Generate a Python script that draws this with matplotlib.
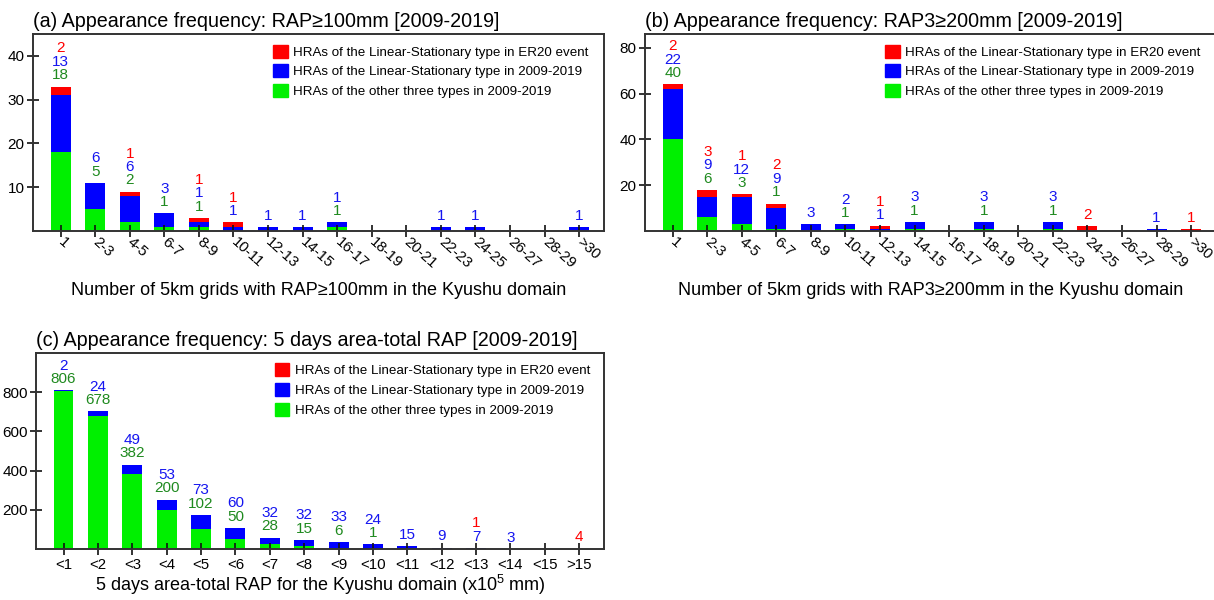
import matplotlib
matplotlib.use("Agg")
import matplotlib.pyplot as plt
import matplotlib.patches as mpatches
import numpy as np

plt.rcParams['font.family'] = ['Liberation Sans', 'DejaVu Sans']
plt.rcParams['mathtext.fontset'] = 'custom'
plt.rcParams['mathtext.rm'] = 'Liberation Sans'

# x categories
grid_bins = ["1", "2-3", "4-5", "6-7", "8-9", "10-11", "12-13", "14-15", "16-17",
             "18-19", "20-21", "22-23", "24-25", "26-27", "28-29", ">30"]
total_bins = ["<1", "<2", "<3", "<4", "<5", "<6", "<7", "<8", "<9", "<10",
              "<11", "<12", "<13", "<14", "<15", ">15"]

# (a) RAP>=100mm
a_other = [18, 5, 2, 1, 1, 0, 0, 0, 1, 0, 0, 0, 0, 0, 0, 0]
a_ls = [13, 6, 6, 3, 1, 1, 1, 1, 1, 0, 0, 1, 1, 0, 0, 1]
a_er20 = [2, 0, 1, 0, 1, 1, 0, 0, 0, 0, 0, 0, 0, 0, 0, 0]

# (b) RAP3>=200mm
b_other = [40, 6, 3, 1, 0, 1, 0, 1, 0, 1, 0, 1, 0, 0, 0, 0]
b_ls = [22, 9, 12, 9, 3, 2, 1, 3, 0, 3, 0, 3, 0, 0, 1, 0]
b_er20 = [2, 3, 1, 2, 0, 0, 1, 0, 0, 0, 0, 0, 2, 0, 0, 1]

# (c) 5 days area-total RAP
c_other = [806, 678, 382, 200, 102, 50, 28, 15, 6, 1, 0, 0, 0, 0, 0, 0]
c_ls = [2, 24, 49, 53, 73, 60, 32, 32, 33, 24, 15, 9, 7, 3, 0, 0]
c_er20 = [0, 0, 0, 0, 0, 0, 0, 0, 0, 0, 0, 0, 1, 0, 0, 4]

legend_labels = ["HRAs of the Linear-Stationary type in ER20 event",
                 "HRAs of the Linear-Stationary type in 2009-2019",
                 "HRAs of the other three types in 2009-2019"]

RED, BLUE, GREEN = '#ff0000', '#0000ff', '#00f000'
TXT_R, TXT_B, TXT_G = '#ff0000', '#1515f0', '#1f8a1f'
FRAME = '#333333'


def draw_panel(ax, cats, green, blue, red, ymax, yticks, title, xlabel, rotate, xlabelpad):
    x = np.arange(len(cats))
    g = np.array(green)
    b = np.array(blue)
    r = np.array(red)
    w = 0.58
    ax.bar(x, g, w, color=GREEN)
    ax.bar(x, b, w, bottom=g, color=BLUE)
    ax.bar(x, r, w, bottom=g + b, color=RED)

    # stacked numbers above each bar: green, blue, red (non-zero only)
    for i in x:
        top = g[i] + b[i] + r[i]
        k = 0
        for val, col in ((g[i], TXT_G), (b[i], TXT_B), (r[i], TXT_R)):
            if val > 0:
                ax.annotate(str(val), (i, top), xytext=(0, 8.0 + k * 9.7),
                            textcoords='offset points', ha='center', va='center',
                            color=col, fontsize=11)
                k += 1

    ax.set_xlim(-0.8, 15.72)
    ax.set_ylim(0, ymax)
    ax.set_yticks(yticks)
    ax.set_xticks(x)
    if rotate:
        ax.set_xticklabels(cats, rotation=-42, ha='left', va='center',
                           rotation_mode='anchor')
    else:
        ax.set_xticklabels(cats)
    ax.tick_params(direction='inout', length=9, width=1.2, labelsize=10.8,
                   pad=2, color='#111111')
    ax.tick_params(axis='y', pad=1.5, labelsize=11)
    for s in ax.spines.values():
        s.set_linewidth(1.4)
        s.set_color(FRAME)

    ax.set_title(title, loc='left', fontsize=14.2, pad=5)
    ax.set_xlabel(xlabel, fontsize=13, labelpad=xlabelpad)

    handles = [mpatches.Patch(color=RED, label=legend_labels[0]),
               mpatches.Patch(color=BLUE, label=legend_labels[1]),
               mpatches.Patch(color=GREEN, label=legend_labels[2])]
    ax.legend(handles=handles, loc='upper left', bbox_to_anchor=(0.42, 0.946),
              frameon=False, fontsize=9.6, handlelength=1.12, handleheight=1.12,
              handletextpad=0.38, labelspacing=0.42, borderpad=0, borderaxespad=0)


W, H = 1214, 600
fig = plt.figure(figsize=(W / 100, H / 100), dpi=100)

ax_a = fig.add_axes([33 / W, 1 - 231 / H, 571 / W, 197 / H])
ax_b = fig.add_axes([645 / W, 1 - 231 / H, 571 / W, 197 / H])
ax_c = fig.add_axes([36 / W, 1 - 549.3 / H, 568 / W, 196.6 / H])

draw_panel(ax_a, grid_bins, a_other, a_ls, a_er20, 45, [10, 20, 30, 40],
           "(a) Appearance frequency: RAP≥100mm [2009-2019]",
           "Number of 5km grids with RAP≥100mm in the Kyushu domain", True, 8)
draw_panel(ax_b, grid_bins, b_other, b_ls, b_er20, 86, [20, 40, 60, 80],
           "(b) Appearance frequency: RAP3≥200mm [2009-2019]",
           "Number of 5km grids with RAP3≥200mm in the Kyushu domain", True, 8)
draw_panel(ax_c, total_bins, c_other, c_ls, c_er20, 1000, [200, 400, 600, 800],
           "(c) Appearance frequency: 5 days area-total RAP [2009-2019]",
           r"5 days area-total RAP for the Kyushu domain (x10$^5$ mm)", False, 0.5)

fig.savefig("out.png", dpi=100)
